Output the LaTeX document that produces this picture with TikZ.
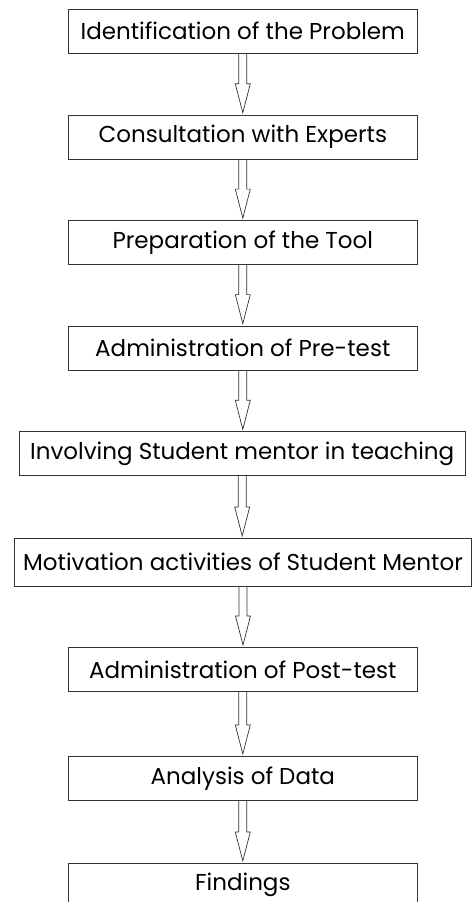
\documentclass[tikz,border=0pt]{standalone}
\usepackage{fontspec}
\setmainfont{Poppins}
\usetikzlibrary{calc}

\tikzset{
    stage/.style={rectangle, draw=black!80, line width=0.8pt, minimum width=349pt,
        minimum height=44pt, inner sep=0pt, font=\fontsize{23}{26}\selectfont},
    hollow/.style={draw=black!80, line width=0.7pt}
}

% open block arrow from the bottom of one box to the top of the next
\newcommand{\flowarrow}[2]{%
    \draw[hollow] let \p1=(#1.south), \p2=(#2.north) in
        (\x1-4pt,\y1) -- (\x1-4pt,\y2+31pt) -- (\x1-7.5pt,\y2+31pt)
        -- (\x1,\y2+2pt) -- (\x1+7.5pt,\y2+31pt) -- (\x1+4pt,\y2+31pt)
        -- (\x1+4pt,\y1);
}

\begin{document}
\begin{tikzpicture}[x=1pt, y=-1pt]
    \clip (0, 0) rectangle (473, 902);

    \node[stage] (prob) at (242.8, 31.2) {Identification of the Problem};
    \node[stage] (expert) at (242.8, 137.2) {Consultation with Experts};
    \node[stage] (tool) at (242.8, 242.5) {Preparation of the Tool};
    \node[stage] (pretest) at (242.8, 348) {Administration of Pre-test};
    \node[stage, minimum width=445.7pt] (mentor) at (242.2, 453.7) {Involving Student mentor in teaching};
    \node[stage, minimum width=457.4pt, minimum height=47.7pt] (motiv) at (243, 562.2) {Motivation activities of Student Mentor};
    \node[stage] (posttest) at (242.8, 669.4) {Administration of Post-test};
    \node[stage] (data) at (242.8, 778.4) {Analysis of Data};
    \node[stage] (find) at (242.8, 885.3) {Findings};

    \flowarrow{prob}{expert}
    \flowarrow{expert}{tool}
    \flowarrow{tool}{pretest}
    \flowarrow{pretest}{mentor}
    \flowarrow{mentor}{motiv}
    \flowarrow{motiv}{posttest}
    \flowarrow{posttest}{data}
    \flowarrow{data}{find}
\end{tikzpicture}
\end{document}
